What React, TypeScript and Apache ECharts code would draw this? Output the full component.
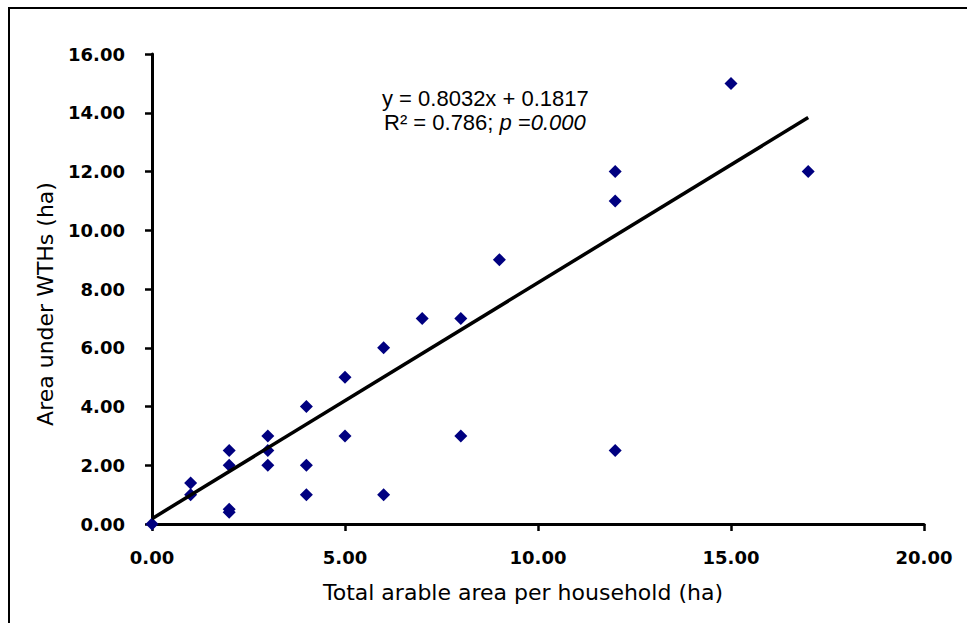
import React, { useEffect, useRef } from "react";
import * as echarts from "echarts";

const xValues = [0, 1, 1, 2, 2, 2, 2, 3, 3, 3, 4, 4, 4, 5, 5, 6, 6, 7, 8, 8, 9, 12, 12, 12, 15, 17];
const yValues = [0, 1, 1.4, 0.4, 0.5, 2, 2.5, 2, 2.5, 3, 1, 2, 4, 3, 5, 1, 6, 7, 3, 7, 9, 2.5, 11, 12, 15, 12];
const slope = 0.8032;
const intercept = 0.1817;
const trendRange = [0, 17];
const xTicks = { min: 0, max: 20, interval: 5 };
const yTicks = { min: 0, max: 16, interval: 2 };

export default function App() {
  const ref = useRef<HTMLDivElement>(null);
  useEffect(() => {
    document.body.style.margin = "0";
    const chart = echarts.init(ref.current!, null, { renderer: "svg" });
    const points = xValues.map((x, i) => [x, yValues[i]]);
    const trend = trendRange.map((x) => [x, slope * x + intercept]);
    const axisCommon = {
      axisLine: { show: true, onZero: false, lineStyle: { color: "#000", width: 3 } },
      axisTick: { show: true, inside: false, length: 7, lineStyle: { color: "#000", width: 2.5 } },
      splitLine: { show: false },
      axisLabel: {
        color: "#000",
        fontFamily: "DejaVu Sans",
        fontWeight: "bold" as const,
        fontSize: 18,
        formatter: (v: number) => v.toFixed(2),
      },
    };
    const eqFont = "22px 'Liberation Sans', Arial, sans-serif";
    chart.setOption({
      animation: false,
      backgroundColor: "#fff",
      grid: { left: 152, right: 43, top: 54, bottom: 99, containLabel: false },
      xAxis: {
        type: "value",
        ...axisCommon,
        min: xTicks.min,
        max: xTicks.max,
        interval: xTicks.interval,
        axisLabel: { ...axisCommon.axisLabel, margin: 24 },
      },
      yAxis: {
        type: "value",
        ...axisCommon,
        min: yTicks.min,
        max: yTicks.max,
        interval: yTicks.interval,
        axisLabel: { ...axisCommon.axisLabel, margin: 27 },
      },
      series: [
        {
          type: "scatter",
          data: points,
          symbol: "diamond",
          symbolSize: 13,
          itemStyle: { color: "#000080", opacity: 1 },
          z: 2,
        },
        {
          type: "line",
          data: trend,
          showSymbol: false,
          symbol: "none",
          lineStyle: { color: "#000", width: 3.5 },
          z: 3,
        },
      ],
      graphic: [
        {
          type: "rect",
          shape: { x: 9, y: 8, width: 1200, height: 1200 },
          style: { fill: "none", stroke: "#000", lineWidth: 2 },
          silent: true,
        },
        {
          type: "text",
          x: 382,
          y: 98,
          style: {
            text: "y = 0.8032x + 0.1817",
            font: eqFont,
            fill: "#000",
            align: "left",
            verticalAlign: "middle",
          },
        },
        {
          type: "text",
          x: 384,
          y: 122,
          style: {
            text: "R² = 0.786; {i|p} ={i|0.000}",
            font: eqFont,
            fill: "#000",
            align: "left",
            verticalAlign: "middle",
            rich: {
              i: {
                fontStyle: "italic",
                fontSize: 22,
                fontFamily: "Liberation Sans",
                fill: "#000",
              },
            },
          },
        },
        {
          type: "text",
          x: 523,
          y: 592,
          style: {
            text: "Total arable area per household (ha)",
            font: "22px 'DejaVu Sans', sans-serif",
            fill: "#000",
            align: "center",
            verticalAlign: "middle",
          },
        },
        {
          type: "text",
          x: 45,
          y: 304,
          rotation: Math.PI / 2,
          style: {
            text: "Area under WTHs (ha)",
            font: "22px 'DejaVu Sans', sans-serif",
            fill: "#000",
            align: "center",
            verticalAlign: "middle",
          },
        },
      ],
    });
    return () => chart.dispose();
  }, []);
  return <div ref={ref} style={{ width: 967, height: 623 }} />;
}
